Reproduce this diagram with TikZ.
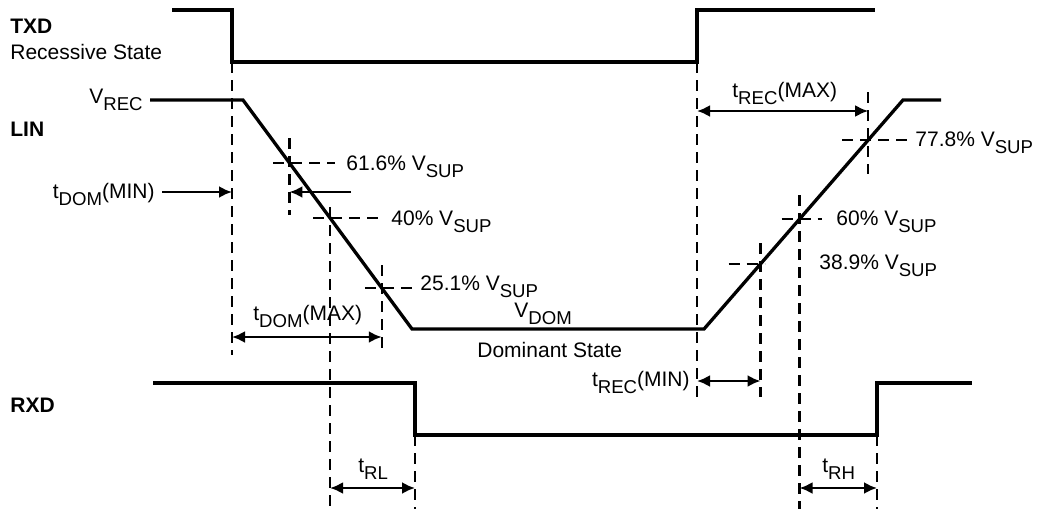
\documentclass[tikz,border=0pt]{standalone}
\usepackage{fontspec}
\setmainfont{Liberation Sans}
\usetikzlibrary{arrows.meta}
\usetikzlibrary{calc}
\usetikzlibrary{positioning}

\newcommand{\subtxt}[1]{\raisebox{-3.8pt}{\fontsize{9.3}{11}\selectfont #1}}

\tikzset{
	wave/.style={line width=1.65pt},
	guide/.style={line width=1.25pt, dash pattern=on 5.5pt off 3.5pt},
	span/.style={line width=1.2pt, {Latex[length=6.5pt,width=6pt]}-{Latex[length=6.5pt,width=6pt]}},
	lead/.style={line width=1.2pt, -{Latex[length=6.5pt,width=6pt]}},
	txt/.style={inner sep=0pt, font=\fontsize{10.5}{12.6}\selectfont},
	sig/.style={txt, font=\fontsize{10.5}{12.6}\selectfont\bfseries},
}

\begin{document}
\begin{tikzpicture}[x=0.5pt,y=-0.5pt]
	\useasboundingbox (0,0) rectangle (1042,509);

	% TXD corners
	\coordinate (T0) at (172,10);
	\coordinate (T1) at (232,10);
	\coordinate (T2) at (232,62);
	\coordinate (T3) at (697,62);
	\coordinate (T4) at (697,10);
	\coordinate (T5) at (875,10);
	% LIN corners
	\coordinate (L0) at (150,100);
	\coordinate (L1) at (243,100);
	\coordinate (L2) at (412,329);
	\coordinate (L3) at (704,329);
	\coordinate (L4) at (903,100);
	\coordinate (L5) at (941,100);
	% RXD corners
	\coordinate (R0) at (153,383);
	\coordinate (R1) at (415,383);
	\coordinate (R2) at (415,435);
	\coordinate (R3) at (877,435);
	\coordinate (R4) at (877,383);
	\coordinate (R5) at (972,383);
	% thresholds on the edges
	\coordinate (f616) at ($(L1)!0.275!(L2)$);
	\coordinate (f40) at ($(L1)!0.515!(L2)$);
	\coordinate (f251) at ($(L1)!0.821!(L2)$);
	\coordinate (r389) at ($(L3)!0.284!(L4)$);
	\coordinate (r60) at ($(L3)!0.48!(L4)$);
	\coordinate (r778) at ($(L3)!0.825!(L4)$);

	% nodes
	\node[sig, anchor=base west] (txd) at (10,33) {TXD}; %
	\node[txt, anchor=base west] (recst) at (10,59) {Recessive State}; %
	\node[sig, anchor=base west] (lin) at (10,136) {LIN}; %
	\node[sig, anchor=base west] (rxd) at (10,412) {RXD}; %
	\node[txt, anchor=base east] (vrec) at (143,103) {V\subtxt{REC}}; %
	\node[txt, anchor=base west] (vdom) at (514,317) {V\subtxt{DOM}}; %
	\node[txt, anchor=base west] (domst) at (477,357) {Dominant State}; %

	\node[txt, anchor=base west] (p616) at (346,170) {61.6\% V\subtxt{SUP}}; %
	\node[txt, anchor=base west] (p40) at (391,225) {40\% V\subtxt{SUP}}; %
	\node[txt, anchor=base west] (p251) at (420,290) {25.1\% V\subtxt{SUP}}; %
	\node[txt, anchor=base west] (p778) at (915,146) {77.8\% V\subtxt{SUP}}; %
	\node[txt, anchor=base west] (p60) at (836,225) {60\% V\subtxt{SUP}}; %
	\node[txt, anchor=base west] (p389) at (819,269) {38.9\% V\subtxt{SUP}}; %

	\node[txt, anchor=base east] (tdmin) at (155,198) {t\subtxt{DOM}(MIN)}; %
	\node[txt, anchor=base west] (tdmax) at (253,320) {t\subtxt{DOM}(MAX)}; %
	\node[txt, anchor=base west] (trecmax) at (732,97) {t\subtxt{REC}(MAX)}; %
	\node[txt, anchor=base east] (trecmin) at (690,386) {t\subtxt{REC}(MIN)}; %
	\node[txt, anchor=base west] (trl) at (358,472) {t\subtxt{RL}}; %
	\node[txt, anchor=base west] (trh) at (822,472) {t\subtxt{RH}}; %

	% guides
	\draw[guide] (T2) -- (232,355);
	\draw[guide] (f616 |- 0,138) -- (f616 |- 0,215);
	\draw[guide] (f40 |- 0,207) -- (f40 |- 0,509);
	\draw[guide] (f251 |- 0,265) -- (f251 |- 0,352);
	\draw[guide] (R2) -- (415,509);
	\draw[guide] (T3) -- (697,398);
	\draw[guide] (r389 |- 0,243) -- (r389 |- 0,397);
	\draw[guide] (r60 |- 0,195) -- (r60 |- 0,509);
	\draw[guide] (r778 |- 0,92) -- (r778 |- 0,174);
	\draw[guide] (R3) -- (877,509);

	\draw[guide] (f616) ++(-16,0) -- ++(62,0);
	\draw[guide] (f40) ++(-17,0) -- ++(67,0);
	\draw[guide] (f251) ++(-17,0) -- ++(50,0);
	\draw[guide] (r778) ++(-26,0) -- ++(68,0);
	\draw[guide] (r60) ++(-18,0) -- ++(40,0);
	\draw[guide] (r389) ++(-32,0) -- ++(36,0);

	% waveforms
	\draw[wave] (T0) -- (T1) -- (T2) -- (T3) -- (T4) -- (T5);
	\draw[wave] (L0) -- (L1) -- (L2) -- (L3) -- (L4) -- (L5);
	\draw[wave] (R0) -- (R1) -- (R2) -- (R3) -- (R4) -- (R5);

	% timing arrows
	\draw[lead] (162,192) -- (T2 |- 0,192);
	\draw[lead] (351,192) -- (f616 |- 0,192);
	\draw[span] (T2 |- 0,337) -- (f251 |- 0,337);
	\draw[span] (f40 |- 0,488) -- (R2 |- 0,488);
	\draw[span] (T3 |- 0,111) -- (r778 |- 0,111);
	\draw[span] (T3 |- 0,381) -- (r389 |- 0,381);
	\draw[span] (r60 |- 0,488) -- (R3 |- 0,488);
\end{tikzpicture}
\end{document}
